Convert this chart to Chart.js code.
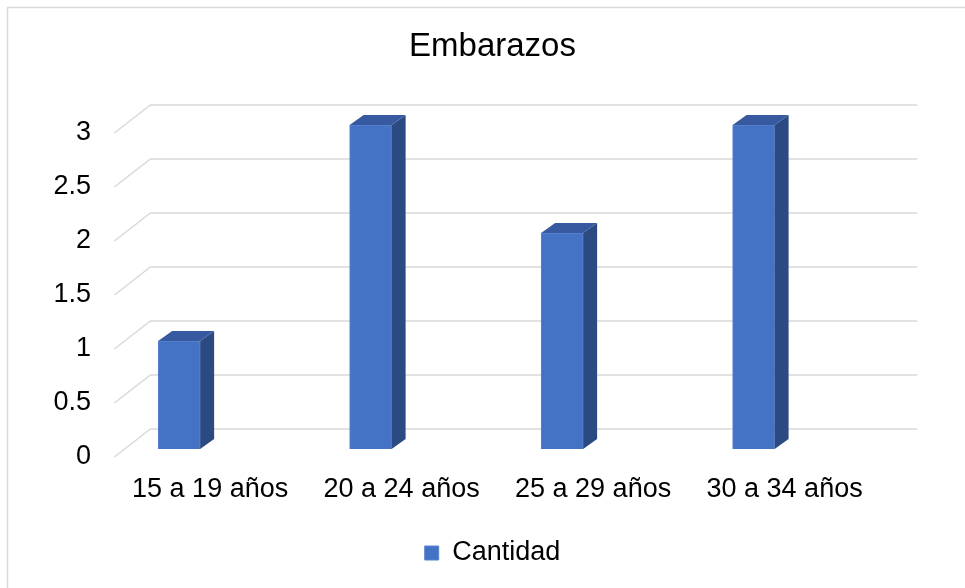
<!DOCTYPE html>
<html>
<head>
<meta charset="utf-8">
<title>Embarazos</title>
<script src="https://cdn.jsdelivr.net/npm/chart.js@4.4.1/dist/chart.umd.min.js"></script>
<style>
  html, body { margin: 0; padding: 0; background: #ffffff; }
  #chartWrap { width: 965px; height: 588px; position: relative; }
</style>
</head>
<body>
<div id="chartWrap"><canvas id="embarazosChart"></canvas></div>
<script>
// Data
const categories = ['15 a 19 años', '20 a 24 años', '25 a 29 años', '30 a 34 años'];
const cantidad = [1, 3, 2, 3];
const seriesName = 'Cantidad';
const chartTitle = 'Embarazos';

// Depth of the fake 3D effect
const depthX = 14;
const depthY = 10;

const fontFamily = '"Liberation Sans", Arial, sans-serif';

// Plugin to draw the outer frame, gridlines and tick labels in the 3D style
const backWallPlugin = {
    id: 'backWall',
    beforeDraw(chart) {
        const ctx = chart.ctx;
        ctx.save();
        ctx.strokeStyle = '#d9d9d9';
        ctx.lineWidth = 1.5;
        ctx.strokeRect(7.5, 7.5, 2000, 2000);
        ctx.restore();
    },
    beforeDatasetsDraw(chart) {
        const ctx = chart.ctx;
        const yScale = chart.scales.y;
        const xScale = chart.scales.x;
        const frontLeft = xScale.getPixelForValue(-0.5) + 31;
        const backLeft = frontLeft + 36;
        const backRight = xScale.getPixelForValue(3.5) + 68;
        ctx.save();
        ctx.strokeStyle = '#d9d9d9';
        ctx.lineWidth = 1.5;
        yScale.ticks.forEach(tick => {
            const y = yScale.getPixelForValue(tick.value);
            ctx.beginPath();
            ctx.moveTo(frontLeft, y + 8);
            ctx.lineTo(backLeft, y - 20);
            ctx.lineTo(backRight, y - 20);
            ctx.stroke();
        });
        ctx.restore();
    },
    afterDatasetsDraw(chart) {
        const ctx = chart.ctx;
        const meta = chart.getDatasetMeta(0);
        ctx.save();
        meta.data.forEach(bar => {
            const x1 = bar.x - bar.width / 2;
            const x2 = bar.x + bar.width / 2;
            const yTop = bar.y;
            const yBottom = bar.base;

            // right side face
            ctx.fillStyle = '#2c4a82';
            ctx.beginPath();
            ctx.moveTo(x2, yTop);
            ctx.lineTo(x2 + depthX, yTop - depthY);
            ctx.lineTo(x2 + depthX, yBottom - depthY);
            ctx.lineTo(x2, yBottom);
            ctx.closePath();
            ctx.fill();

            // top face
            ctx.fillStyle = '#3659a0';
            ctx.beginPath();
            ctx.moveTo(x1, yTop);
            ctx.lineTo(x1 + depthX, yTop - depthY);
            ctx.lineTo(x2 + depthX, yTop - depthY);
            ctx.lineTo(x2, yTop);
            ctx.closePath();
            ctx.fill();
        });
        ctx.restore();
    },
    afterDraw(chart) {
        const ctx = chart.ctx;
        const yScale = chart.scales.y;
        const xScale = chart.scales.x;
        ctx.save();
        ctx.fillStyle = '#000000';
        ctx.font = '27px ' + fontFamily;

        // y tick labels, placed on the front edge
        ctx.textAlign = 'right';
        ctx.textBaseline = 'middle';
        yScale.ticks.forEach(tick => {
            const y = yScale.getPixelForValue(tick.value);
            ctx.fillText(String(tick.value), 91, y + 8);
        });

        // x category labels
        ctx.textAlign = 'center';
        categories.forEach((label, i) => {
            const x = xScale.getPixelForValue(i);
            ctx.fillText(label, x + 31, 490);
        });
        ctx.restore();
    }
};

// Function to create the chart
function createChart(ctx) {
    const points = cantidad.map((v, i) => ({ x: i, y: v }));
    return new Chart(ctx, {
        type: 'bar',
        data: {
            datasets: [{
                label: seriesName,
                data: points,
                backgroundColor: '#4472c4',
                borderColor: '#5b84cf',
                borderWidth: 1,
                barThickness: 42,
            }],
        },
        options: {
            responsive: false,
            animation: false,
            layout: {
                padding: { top: 10, bottom: 11.5, left: 20, right: 0 }
            },
            scales: {
                x: {
                    type: 'linear',
                    display: false,
                    min: -0.831,
                    max: 4.104,
                    offset: false,
                },
                y: {
                    display: false,
                    min: 0,
                    max: 3,
                    ticks: { stepSize: 0.5 },
                }
            },
            plugins: {
                title: {
                    display: true,
                    text: chartTitle,
                    color: '#000000',
                    font: { family: fontFamily, size: 33, weight: 'normal' },
                    padding: { top: 17.2, bottom: 58.2 },
                },
                legend: {
                    position: 'bottom',
                    labels: {
                        color: '#000000',
                        font: { family: fontFamily, size: 27 },
                        boxWidth: 14,
                        boxHeight: 14,
                        padding: 90.5,
                    }
                },
                tooltip: { enabled: false }
            }
        },
        plugins: [backWallPlugin]
    });
}

const canvas = document.getElementById('embarazosChart');
canvas.width = 965;
canvas.height = 588;
const myChart = createChart(canvas.getContext('2d'));
</script>
</body>
</html>
